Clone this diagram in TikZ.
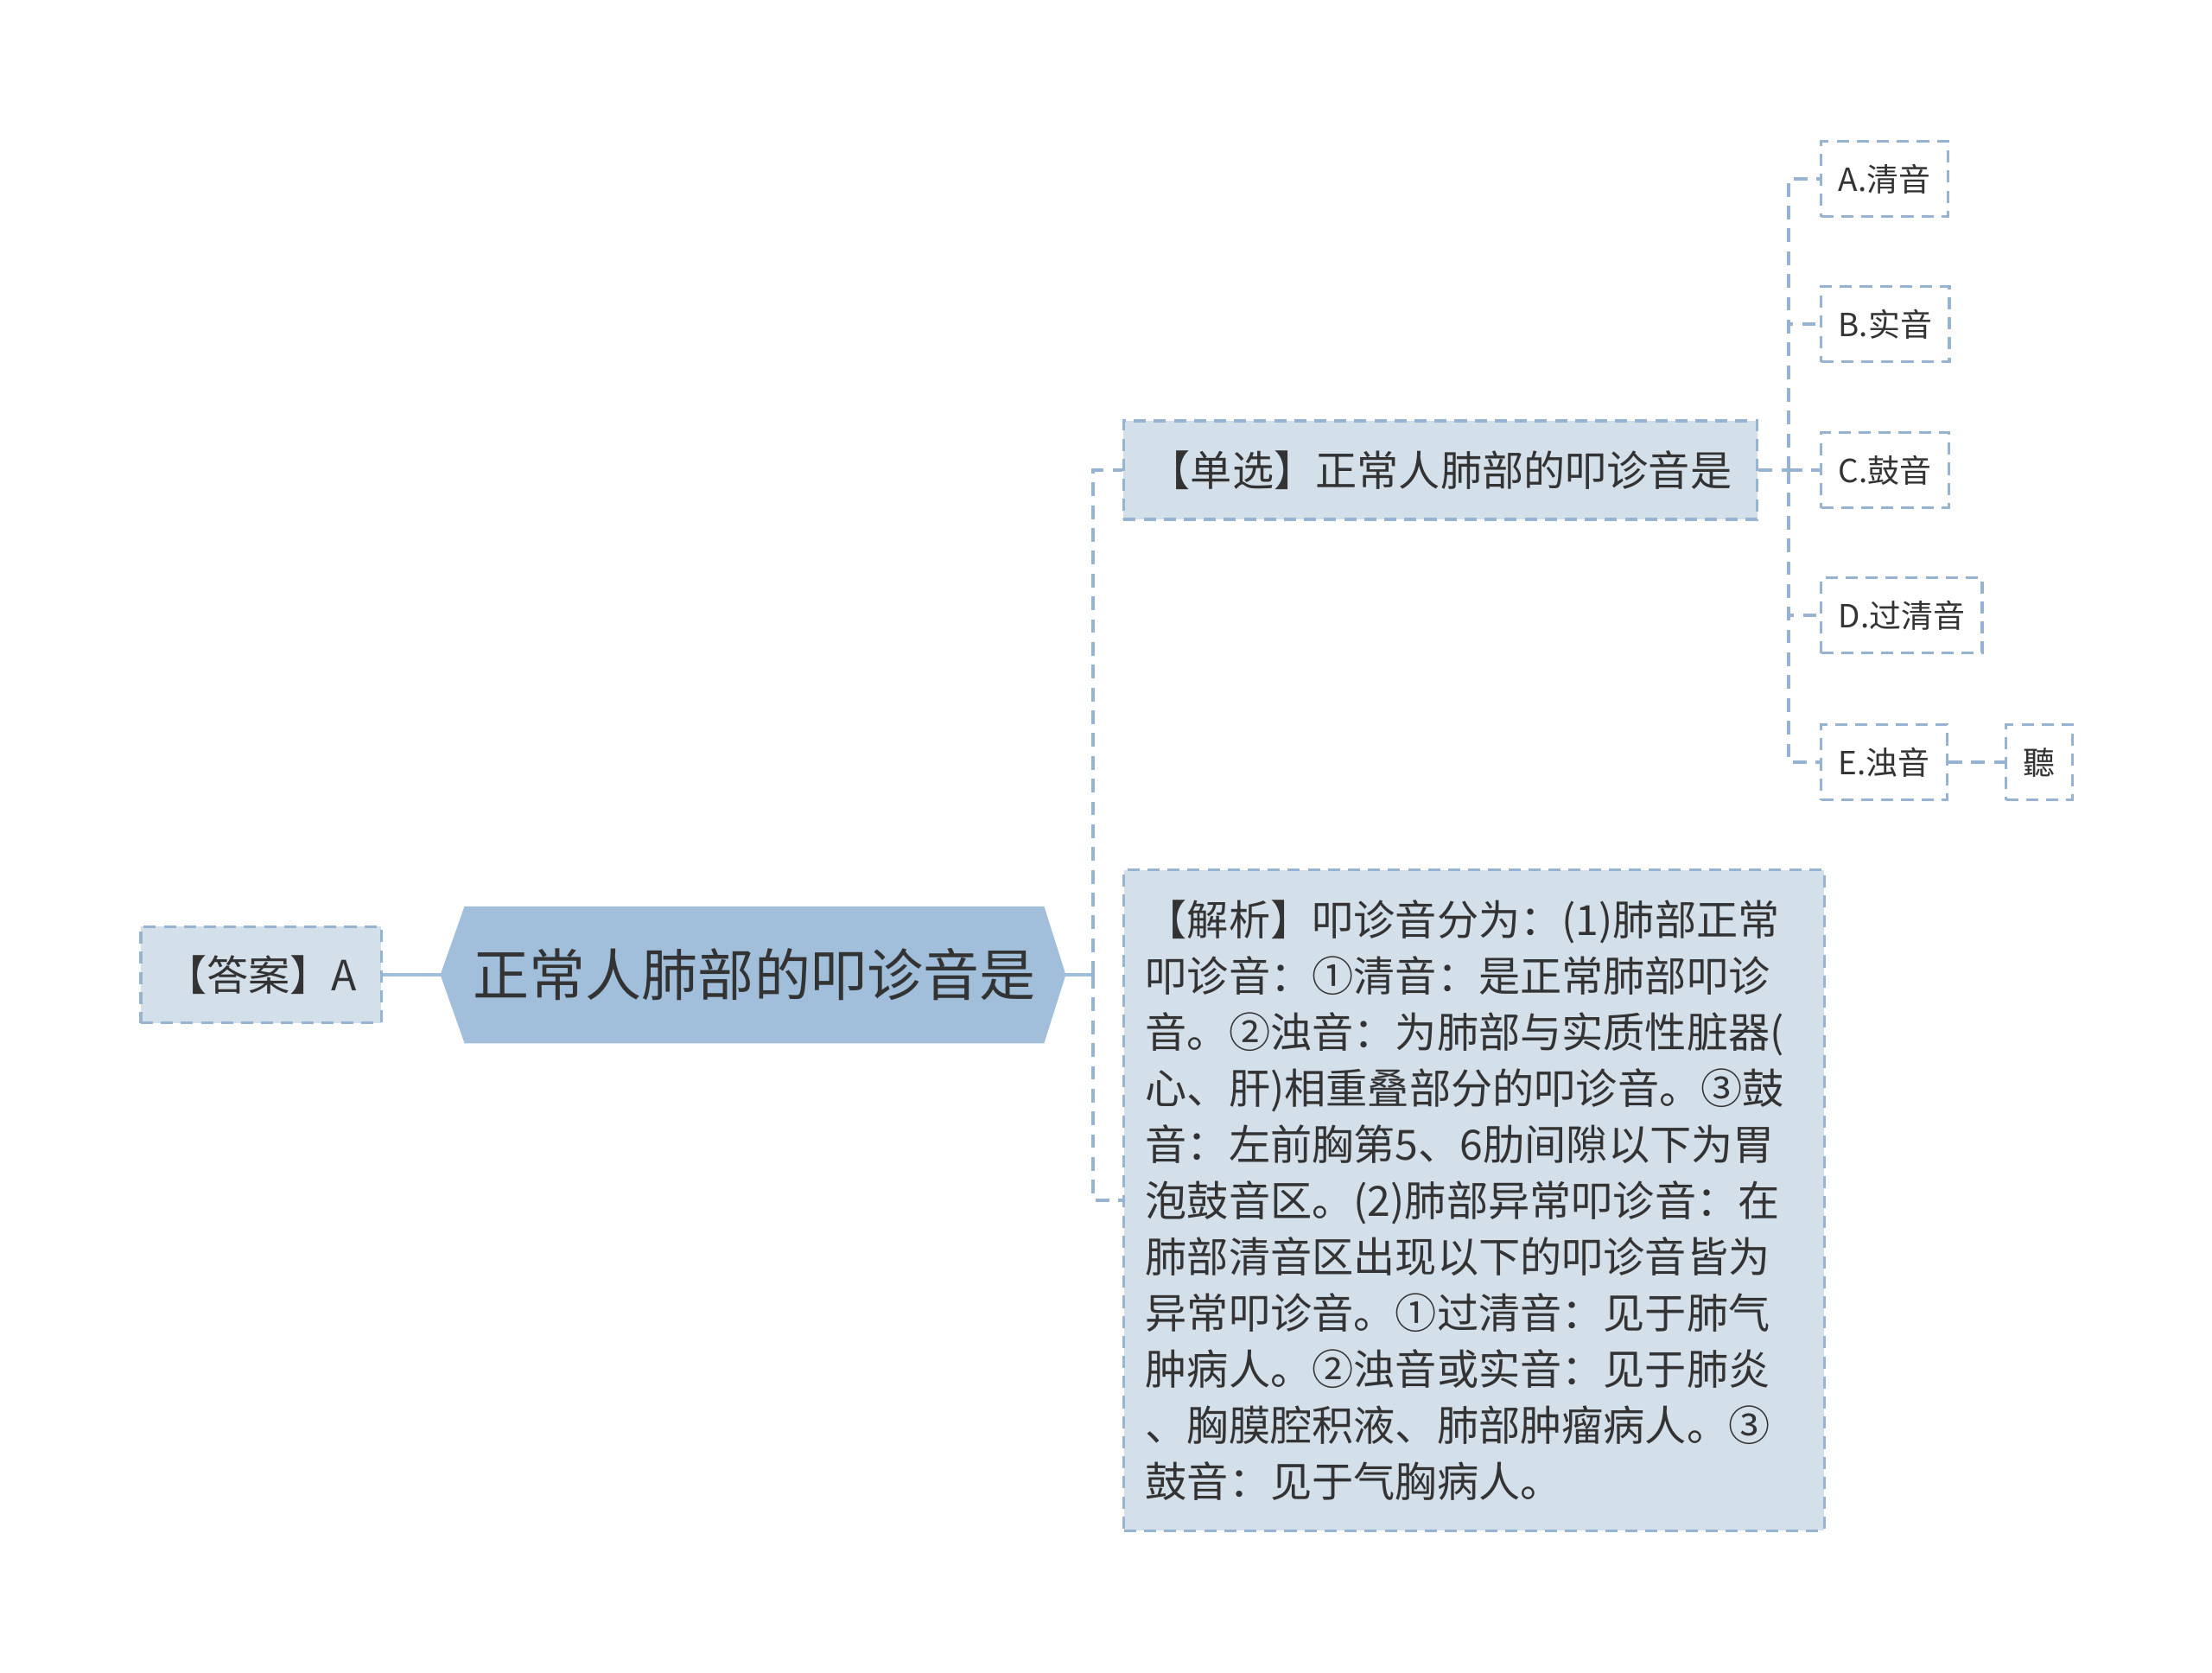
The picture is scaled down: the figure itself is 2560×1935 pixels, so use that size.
\documentclass[tikz,border=0pt]{standalone}
\usepackage{fontspec}
\setmainfont{Noto Sans CJK SC}
\usetikzlibrary{positioning}
\definecolor{linkblue}{RGB}{150,180,210}
\definecolor{boxfill}{RGB}{211,223,233}
\definecolor{mainfill}{RGB}{161,191,219}
\definecolor{ink}{RGB}{51,51,51}
\tikzset{
  dashbox/.style={draw=linkblue, line width=0.9pt, dash pattern=on 4pt off 2.6pt, text=ink},
  bigbox/.style={dashbox, fill=boxfill, font=\fontsize{13.7}{18.5}\selectfont, inner sep=0pt},
  optbox/.style={dashbox, anchor=west, font=\fontsize{10.5}{13}\selectfont, inner xsep=0.2cm, minimum height=0.87cm},
  dashlink/.style={draw=linkblue, line width=1pt, dash pattern=on 4.5pt off 3pt},
  solidlink/.style={draw=mainfill, line width=1.4pt}
}
\begin{document}
\begin{tikzpicture}[x=0.01cm,y=-0.01cm]
\useasboundingbox (0,0) rectangle (2560,1935);
% central topic
\node[minimum width=6.69cm, minimum height=1.57cm, inner sep=0pt] (main) at (873,1128) {};
\fill[mainfill] (main.north west) -- (main.north east) -- ([xshift=0.25cm]main.east)
  -- (main.south east) -- (main.south west) -- ([xshift=-0.28cm]main.west) -- cycle;
\node[text=ink, font=\fontsize{18.5}{22}\selectfont] at (main) {正常人肺部的叩诊音是};
\coordinate (mainL) at ([xshift=-0.28cm]main.west);
\coordinate (mainR) at ([xshift=0.25cm]main.east);
% left
\node[bigbox, minimum width=2.78cm, minimum height=1.11cm] (ans) at (302,1128) {【答案】A};
\draw[solidlink] (ans.east) -- (mainL);
% right
\node[bigbox, minimum width=7.33cm, minimum height=1.14cm] (q) at (1667,544) {【单选】正常人肺部的叩诊音是};
\node[bigbox, text width=7.6cm, inner xsep=0.25cm, minimum height=7.64cm, align=left] (ana) at (1706,1389) {%
【解析】叩诊音分为：(1)肺部正常\\
叩诊音：①清音：是正常肺部叩诊\\
音。②浊音：为肺部与实质性脏器(\\
心、肝)相重叠部分的叩诊音。③鼓\\
音：左前胸第5、6肋间隙以下为胃\\
泡鼓音区。(2)肺部异常叩诊音：在\\
肺部清音区出现以下的叩诊音皆为\\
异常叩诊音。①过清音：见于肺气\\
肿病人。②浊音或实音：见于肺炎\\
、胸膜腔积液、肺部肿瘤病人。③\\
鼓音：见于气胸病人。};
\coordinate (hub) at (1265,1128);
\draw[solidlink] (mainR) -- (hub);
\draw[dashlink] (hub) |- (q.west);
\draw[dashlink] (hub) |- (ana.west);
% options
\node[optbox] (optA) at (2106,207) {A.清音};
\node[optbox] (optB) at (2106,375) {B.实音};
\node[optbox] (optC) at (2106,544) {C.鼓音};
\node[optbox] (optD) at (2106,712) {D.过清音};
\node[optbox] (optE) at (2106,882) {E.浊音};
\node[optbox] (ting) at (2320,882) {聽};
\coordinate (ohub) at (2070,544);
\draw[dashlink] (q.east) -- (ohub);
\foreach \opt in {optA,optB,optC,optD,optE}
{
    \draw[dashlink] (ohub) |- (\opt.west);
}
\draw[dashlink] (optE.east) -- (ting.west);
\end{tikzpicture}
\end{document}
